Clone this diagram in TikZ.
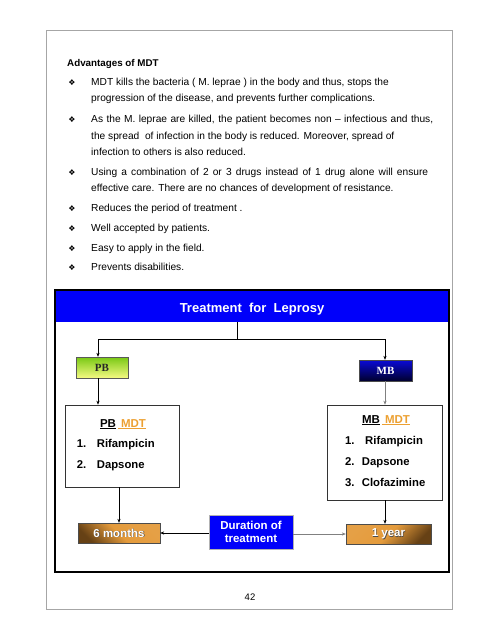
\documentclass[tikz,border=0pt]{standalone}
\usepackage{fontspec}
\setmainfont{Liberation Sans}
\newfontfamily\serifbf{Liberation Serif}
\newfontfamily\dejavu{DejaVu Sans}
\usetikzlibrary{arrows.meta}
\definecolor{mdtorange}{RGB}{236,160,50}
\definecolor{pureblue}{RGB}{0,0,250}
\definecolor{brdark}{RGB}{60,35,8}
\definecolor{brorange}{RGB}{228,155,60}
\tikzset{
  bodytxt/.style={anchor=base west, inner sep=0pt, font=\fontsize{10.2}{12}\selectfont},
  bul/.style={anchor=base, inner sep=0pt, font=\dejavu\fontsize{8}{9}\selectfont},
  itemtxt/.style={anchor=base west, inner sep=0pt, font=\bfseries\fontsize{11.3}{13}\selectfont},
  arr/.style={-{Stealth[length=4pt,width=3.2pt]}, line width=0.5pt},
  whitebold/.style={text=white, font=\bfseries\fontsize{11.5}{13.5}\selectfont},
}
\begin{document}
\begin{tikzpicture}[x=1pt,y=-1pt]
\useasboundingbox (0,0) rectangle (495,640);
% page border
\draw[gray!70, line width=0.8pt] (46,30) rectangle (452,609);
% text block
\node[bodytxt, font=\bfseries\fontsize{9.8}{12}\selectfont] (adv) at (67,66.5) {Advantages of MDT};
\foreach \y/\n in {85.5/b1,122.5/b2,175.5/b3,211.5/b4,231.5/b5,251.5/b6,270.5/b7}
  \node[bul] (\n) at (72,\y) {❖};
\node[bodytxt] (t1a) at (91,85.5) {MDT kills the bacteria ( M. leprae ) in the body and thus, stops the};
\node[bodytxt] (t1b) at (91,101.5) {progression of the disease, and prevents further complications.};
\node[bodytxt] (t2a) at (91,122.5) {\makebox[342pt][s]{As the M. leprae are killed, the patient becomes non – infectious and thus,}};
\node[bodytxt] (t2b) at (91,139.5) {the spread \ of infection in the body is reduced. Moreover, spread of};
\node[bodytxt] (t2c) at (91,155.5) {infection to others is also reduced.};
\node[bodytxt] (t3a) at (91,175.5) {\makebox[337pt][s]{Using a combination of 2 or 3 drugs instead of 1 drug alone will ensure}};
\node[bodytxt] (t3b) at (91,191.5) {effective care. There are no chances of development of resistance.};
\node[bodytxt] (t4) at (91,211.5) {Reduces the period of treatment .};
\node[bodytxt] (t5) at (91,231.5) {Well accepted by patients.};
\node[bodytxt] (t6) at (91,251.5) {Easy to apply in the field.};
\node[bodytxt] (t7) at (91,270.5) {Prevents disabilities.};
% diagram frame
\fill[pureblue] (56,291) rectangle (448,322);
\node[anchor=base, text=white, font=\bfseries\fontsize{13}{15}\selectfont, inner sep=0pt] (title) at (252,312) {Treatment\ \ for\ \ Leprosy};
\coordinate (bandbot) at (237,322);
\draw[line width=2pt] (55,290) rectangle (449,572);
% PB / MB
\shade[top color={rgb,255:red,120;green,200;blue,20}, bottom color={rgb,255:red,245;green,250;blue,130}, draw=gray!70!black, line width=0.6pt] (76,357) rectangle (128,378);
\node[anchor=center, font=\serifbf\bfseries\fontsize{11}{13}\selectfont, text=black!85, minimum width=52pt, minimum height=21pt, inner sep=0pt] (pb) at (102,367.5) {PB};
\shade[top color={rgb,255:red,10;green,10;blue,215}, bottom color={rgb,255:red,0;green,0;blue,45}, draw=gray!60!black, line width=0.6pt] (359,360) rectangle (412,381);
\node[anchor=center, font=\serifbf\bfseries\fontsize{11}{13}\selectfont, text=white, minimum width=53pt, minimum height=21pt, inner sep=0pt] (mb) at (385.5,370.5) {MB};
\coordinate (split) at (237,339);
\draw[line width=1pt] (bandbot) -- (split);
\draw[line width=1pt] (98,339) -- (385,339);
\draw[arr] (98,339) -- ([xshift=-4pt]pb.north);
\draw[arr] (385,339) -- (mb.north -| 385,0);
% MDT boxes
\node[draw=black!80, line width=0.6pt, minimum width=114pt, minimum height=82pt, inner sep=0pt] (pbmdt) at (122,446) {};
\node[draw=black!80, line width=0.6pt, minimum width=115pt, minimum height=95pt, inner sep=0pt] (mbmdt) at (384.5,452.5) {};
\draw[arr] ([xshift=-4pt]pb.south) -- ([xshift=-4pt]pb.south |- pbmdt.north);
\draw[arr, gray] (mb.south -| 385,0) -- (mbmdt.north -| 385,0);
\node[anchor=base, inner sep=0pt, font=\bfseries\fontsize{11.5}{13}\selectfont] (pbh) at (123,427) {\underline{PB}\,\textcolor{mdtorange}{\underline{\ MDT}}};
\node[itemtxt] (pbn1) at (76.7,447) {1.};
\node[itemtxt] (pbi1) at (96.7,447) {Rifampicin};
\node[itemtxt] (pbn2) at (76.7,468) {2.};
\node[itemtxt] (pbi2) at (96.7,468) {Dapsone};
\node[anchor=base, inner sep=0pt, font=\bfseries\fontsize{11.5}{13}\selectfont] (mbh) at (386,423) {\underline{MB}\,\textcolor{mdtorange}{\underline{\ MDT}}};
\node[itemtxt] (mbn1) at (345,444) {1.};
\node[itemtxt] (mbi1) at (365,444) {Rifampicin};
\node[itemtxt] (mbn2) at (345,465) {2.};
\node[itemtxt] (mbi2) at (361.7,465) {Dapsone};
\node[itemtxt] (mbn3) at (345,486) {3.};
\node[itemtxt] (mbi3) at (361.7,486) {Clofazimine};
% bottom row
\shade[left color=brdark!75!brorange, right color=brorange!95!white, middle color=brorange, shading angle=135, draw=black!70, line width=0.5pt] (78,523) rectangle (160,543);
\node[text=black!70, font=\bfseries\fontsize{11.5}{13.5}\selectfont, inner sep=0pt] at (119.6,533.6) {6 months};
\node[whitebold, inner sep=0pt, minimum width=82pt, minimum height=20pt] (sixm) at (119,533) {6 months};
\node[fill=pureblue, draw=gray!60, line width=0.5pt, minimum width=84pt, minimum height=34pt, inner sep=0pt, align=center, whitebold, font=\bfseries\fontsize{11.5}{13.5}\selectfont] (dur) at (251,532) {Duration of\\treatment};
\shade[left color=brorange!95!white, right color=brdark!75!brorange, middle color=brorange, shading angle=45, draw=black!70, line width=0.5pt] (346,524) rectangle (431,544);
\node[text=black!70, font=\bfseries\fontsize{11.5}{13.5}\selectfont, inner sep=0pt] at (389.1,534.6) {1 year};
\node[whitebold, inner sep=0pt, minimum width=85pt, minimum height=20pt] (yr) at (388.5,534) {1 year};
\draw[arr] (pbmdt.south -| sixm.north) -- (sixm.north);
\draw[arr] (mbmdt.south -| 385,0) -- (yr.north -| 385,0);
\draw[arr] (dur.west |- sixm.east) -- (sixm.east);
\draw[arr, draw=gray, fill=black] (dur.east |- yr.west) -- (yr.west);
% page number
\node[anchor=base, inner sep=0pt, font=\fontsize{9.5}{11}\selectfont] (pg) at (250,600) {42};
\end{tikzpicture}
\end{document}
